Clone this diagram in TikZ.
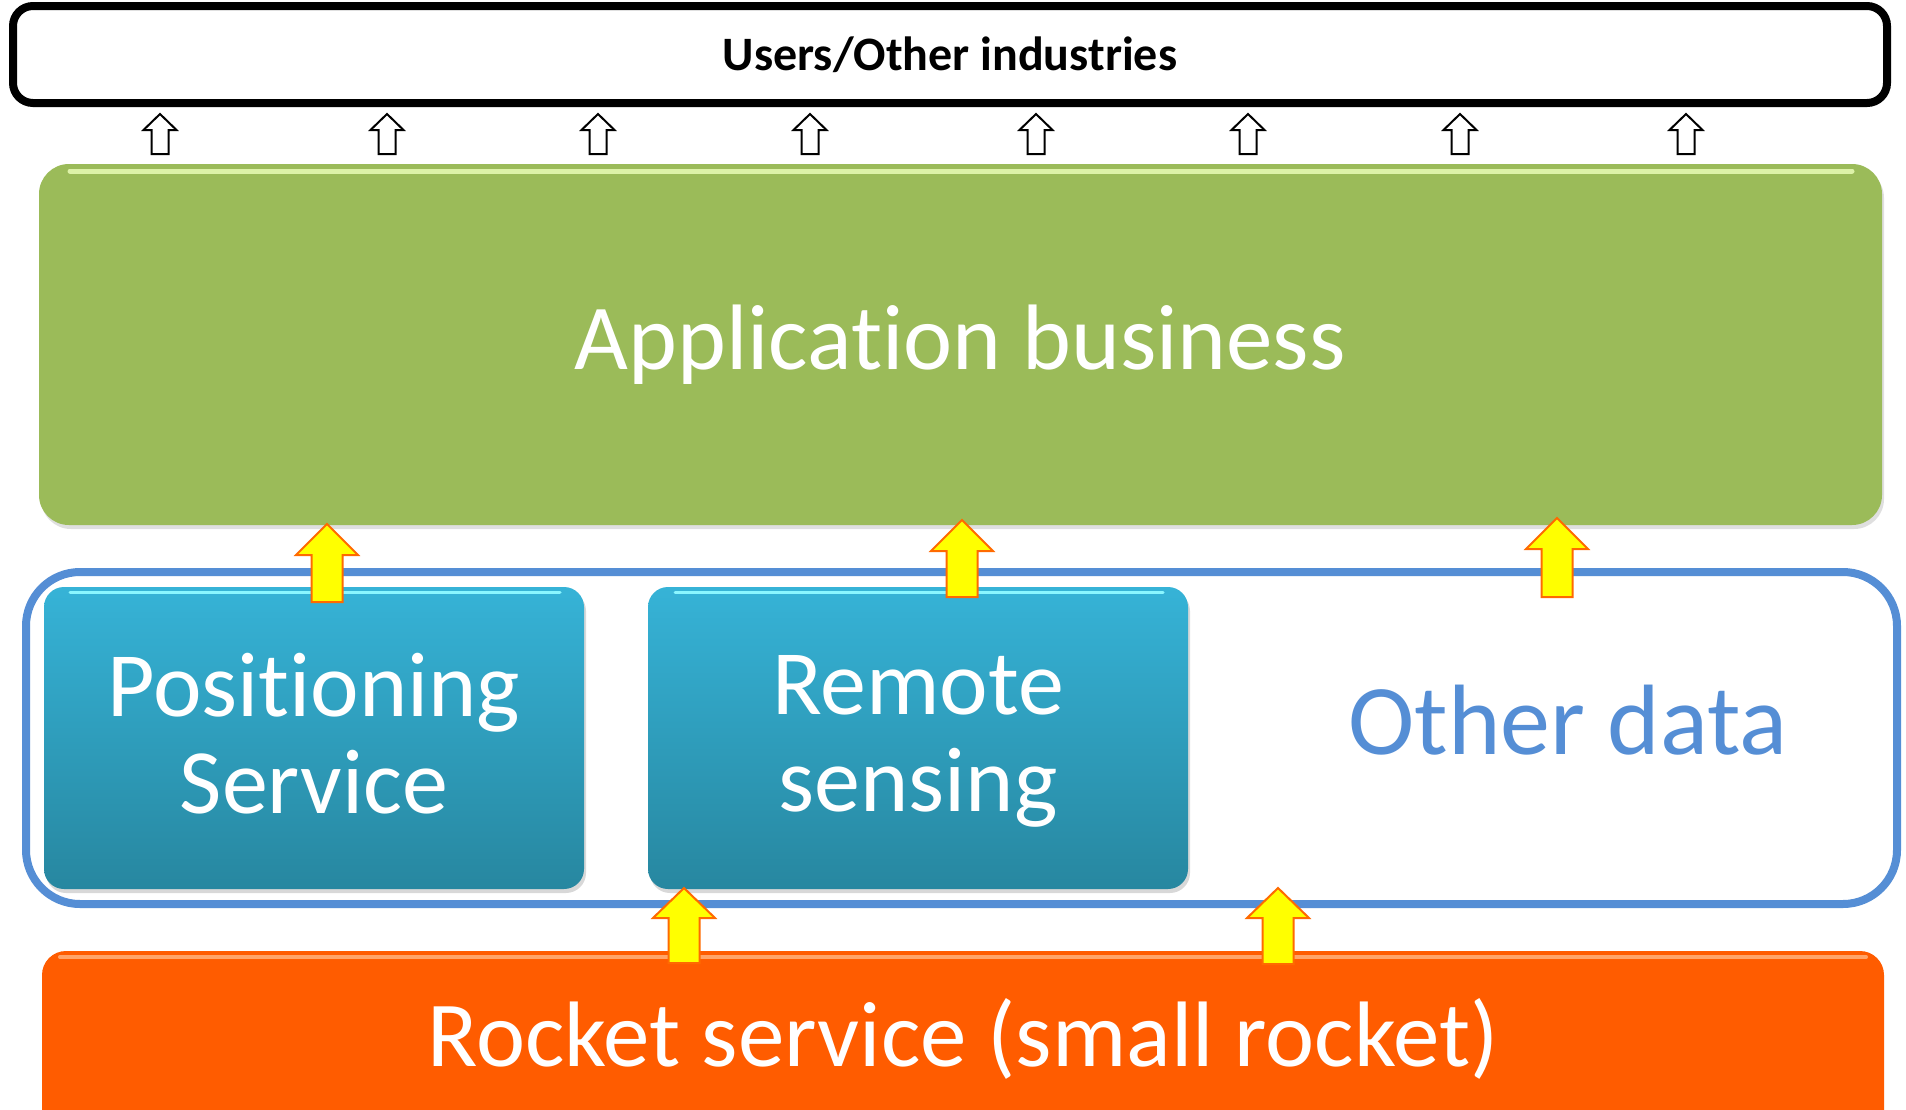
\documentclass[tikz,border=0pt]{standalone}
\usepackage{fontspec}
\setmainfont{Carlito}[Ligatures={NoCommon,NoRequired,NoContextual,NoRare}]
\usetikzlibrary{shadows}
\definecolor{appgreen}{HTML}{9BBB59}
\definecolor{appglow}{HTML}{DDF2A8}
\definecolor{tealtop}{HTML}{36B3D7}
\definecolor{tealbot}{HTML}{2787A0}
\definecolor{tealglow}{HTML}{8AF6FF}
\definecolor{rocketorange}{HTML}{FF5C00}
\definecolor{rocketglow}{HTML}{FFA468}
\definecolor{frameblue}{HTML}{558ED5}
\definecolor{arroworange}{HTML}{FF6A00}
\definecolor{arrowyellow}{HTML}{FFFF00}
\newcommand{\blkarrow}[7]{%
  \draw[#1] ({#2},{#3}) -- ({#2+#5},{#3+#7}) -- ({#2+#6},{#3+#7}) -- ({#2+#6},{#4})
    -- ({#2-#6},{#4}) -- ({#2-#6},{#3+#7}) -- ({#2-#5},{#3+#7}) -- cycle;}
\tikzset{
  usersbox/.style={draw=black, line width=4pt, rounded corners=10pt, fill=white,
    minimum width=937pt, minimum height=48.5pt, inner sep=0pt,
    font=\fontsize{24}{28}\selectfont\bfseries},
  appbox/.style={fill=appgreen, rounded corners=15pt, inner sep=0pt,
    minimum width=921.5pt, minimum height=180.5pt, text=white,
    drop shadow={opacity=0.25, shadow xshift=1pt, shadow yshift=-2pt},
    font=\fontsize{46.5}{50}\selectfont},
  databox/.style={draw=frameblue, line width=4pt, rounded corners=27pt, inner sep=0pt,
    minimum width=935.5pt, minimum height=166pt},
  datatext/.style={text=frameblue, font=\fontsize{50}{54}\selectfont},
  tealbox/.style={top color=tealtop, bottom color=tealbot, rounded corners=10pt,
    minimum width=270pt, minimum height=151pt, inner sep=0pt,
    drop shadow={opacity=0.3, shadow xshift=1pt, shadow yshift=-2pt}},
  tealtext/.style={text=white, align=center, inner sep=0pt,
    font=\fontsize{46}{48.5}\selectfont},
  rocketbox/.style={fill=rocketorange, rounded corners=12pt, inner sep=0pt,
    minimum width=921pt, minimum height=99.5pt},
  rockettext/.style={text=white, font=\fontsize{46.5}{50}\selectfont},
  smallarrow/.style={draw=black, fill=white, line width=1pt, line join=miter},
  yellowarrow/.style={draw=arroworange, fill=arrowyellow, line width=1pt, line join=miter},
  glow/.style={line width=2.5pt, line cap=round}
}
\begin{document}
\begin{tikzpicture}[x=0.5pt,y=-0.5pt]
\useasboundingbox (0,0) rectangle (1906,1109);
\clip (0,0) rectangle (1906,1109);
\fill[white] (0,0) rectangle (1906,1109);

% top bar
\node[usersbox] (users) at (950,54.5) {Users/Other industries};

% application business
\node[appbox] (app) at (960.5,344.5) {Application business};
\draw[glow, appglow] (70,171) -- (1852,171);

% data frame
\node[databox] (data) at (961.5,738) {};
\node[datatext] (other) at (1568,720) {Other data};

% teal boxes
\node[tealbox] (pos) at (314,738) {};
\node[tealbox] (rs) at (918,738) {};
\node[tealtext] (postxt) at (314,741) {Positioning\\Service\vphantom{g}};
\node[tealtext] (rstxt) at (918,741) {Remote\vphantom{g}\\sensing};
\draw[glow, tealglow, line width=1.5pt] (70,592) -- (560,592);
\draw[glow, tealglow, line width=1.5pt] (675,592) -- (1163,592);

% rocket
\node[rocketbox] (rocket) at (963,1050.5) {};
\node[rockettext] (rockettxt) at (963,1039) {Rocket service (small rocket)};
\draw[glow, rocketglow, line width=2pt] (60,957) -- (1866,957);

% small arrows from app to users
\foreach \xx in {160,387,598,810,1036,1248,1460,1686}{
  \blkarrow{smallarrow}{\xx}{114}{154}{16.5}{8.5}{16}
}

% yellow arrows
\blkarrow{yellowarrow}{327}{524}{602}{31}{15.5}{31}
\blkarrow{yellowarrow}{962}{520}{597}{31}{15.5}{31}
\blkarrow{yellowarrow}{1557}{518}{597}{31}{15.5}{31}
\blkarrow{yellowarrow}{684}{888}{963}{31}{15.5}{30}
\blkarrow{yellowarrow}{1278}{888}{964}{31}{15.5}{30}
\end{tikzpicture}
\end{document}
